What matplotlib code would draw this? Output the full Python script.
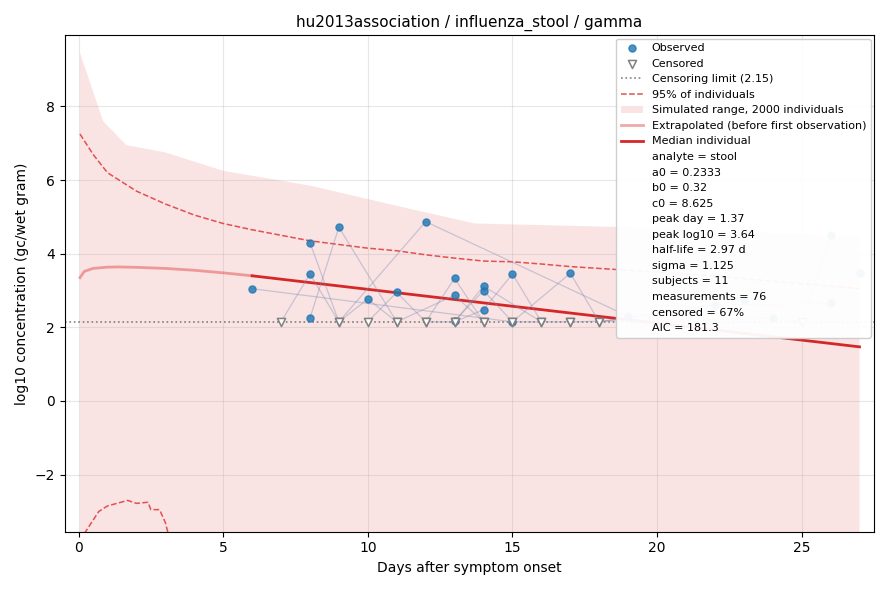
import numpy as np
import matplotlib.pyplot as plt
import matplotlib.lines as mlines

fig = plt.figure(figsize=(8.89, 5.9), dpi=100)
ax = fig.add_subplot(111)

lod = 2.15

# simulated envelope (upper edge, lower edge is off the axis)
env_t = [0.05, 0.85, 1.65, 3, 5, 8, 11, 13.7, 20, 27]
env_hi = [9.45, 7.6, 6.95, 6.75, 6.25, 5.85, 5.3, 4.82, 4.7, 4.45]
ax.fill_between(env_t, [-10]*len(env_t), env_hi, color='#f4c2c2', alpha=0.45, lw=0,
                label='Simulated range, 2000 individuals')

# 95% band
hi_t = [0.05, 0.5, 1, 1.7, 2, 3, 4, 5, 6, 7, 8, 9, 10, 11, 12, 13, 14, 15, 16, 17, 18, 20, 22, 24, 27]
hi_v = [7.25, 6.7, 6.2, 5.85, 5.7, 5.35, 5.05, 4.82, 4.65, 4.5, 4.35, 4.25, 4.15, 4.08, 3.97,
        3.88, 3.8, 3.78, 3.72, 3.65, 3.6, 3.5, 3.4, 3.25, 3.05]
lo_t = [0.2, 0.7, 1, 1.7, 2, 2.4, 2.5, 2.8, 3, 3.1]
lo_v = [-3.6, -3.0, -2.85, -2.7, -2.78, -2.75, -2.95, -2.95, -3.3, -3.6]
ax.plot(hi_t, hi_v, '--', color='#e04040', lw=1.1, alpha=0.9, label='95% of individuals')
ax.plot(lo_t, lo_v, '--', color='#e04040', lw=1.1, alpha=0.9)

# median curve
ext_t = [0.05, 0.2, 0.5, 1.0, 1.37, 2, 3, 4, 5, 6]
ext_v = [3.35, 3.52, 3.6, 3.635, 3.64, 3.63, 3.6, 3.55, 3.48, 3.4]
ax.plot(ext_t, ext_v, color='#e04040', lw=2, alpha=0.45, label='Extrapolated (before first observation)')
ax.plot([6, 27], [3.4, 1.47], color='#d62728', lw=2, label='Median individual')

# subjects: (day, value, censored)
subjects = [
    [(6, 3.05, 0), (15, 2.15, 1)],
    [(8, 4.3, 0), (9, lod, 1), (10, 2.77, 0), (11, lod, 1)],
    [(7, lod, 1), (8, 3.45, 0), (9, lod, 1), (12, 4.87, 0), (19, 2.3, 0)],
    [(8, 2.25, 0), (9, 4.72, 0), (11, lod, 1), (13, 2.87, 0), (14, lod, 1)],
    [(10, lod, 1), (11, 2.95, 0), (12, lod, 1), (13, 3.33, 0), (14, lod, 1)],
    [(12, lod, 1), (13, lod, 1), (14, 3.12, 0), (16, lod, 1)],
    [(13, 2.17, 0), (14, 3.0, 0), (15, lod, 1), (17, lod, 1)],
    [(13, lod, 1), (14, 2.48, 0), (15, 3.45, 0), (16, lod, 1)],
    [(15, 2.15, 0), (17, 3.47, 0), (18, lod, 1), (23, 2.75, 0)],
    [(17, lod, 1), (24, 2.25, 0), (25, lod, 1), (26, 4.52, 0), (27, 3.47, 0)],
    [(18, lod, 1), (22, 2.6, 0), (26, 2.65, 0)],
]
obs_x, obs_y, cen_x, cen_y = [], [], [], []
for s in subjects:
    ax.plot([p[0] for p in s], [p[1] for p in s], color='#7f8fb5', lw=0.9, alpha=0.4, zorder=2)
    for d, v, c in s:
        if c:
            cen_x.append(d); cen_y.append(v)
        else:
            obs_x.append(d); obs_y.append(v)
ax.scatter(obs_x, obs_y, s=26, color='#1f77b4', alpha=0.8, zorder=4, label='Observed')
ax.scatter(cen_x, cen_y, s=34, marker='v', facecolors='white', edgecolors='#808080',
           lw=1.1, zorder=4, label='Censored')
ax.axhline(lod, color='#808080', ls=':', lw=1.2, label='Censoring limit (2.15)')

ax.set_xlim(-0.48, 27.5)
ax.set_ylim(-3.55, 9.93)
ax.grid(alpha=0.3)
ax.set_xlabel('Days after symptom onset')
ax.set_ylabel('log10 concentration (gc/wet gram)')
ax.set_title('hu2013association / influenza_stool / gamma', fontsize=11)

h, l = ax.get_legend_handles_labels()
order = ['Observed', 'Censored', 'Censoring limit (2.15)', '95% of individuals',
         'Simulated range, 2000 individuals', 'Extrapolated (before first observation)', 'Median individual']
hd = dict(zip(l, h))
handles = [hd[k] for k in order]
extra = ['analyte = stool', 'a0 = 0.2333', 'b0 = 0.32', 'c0 = 8.625', 'peak day = 1.37',
         'peak log10 = 3.64', 'half-life = 2.97 d', 'sigma = 1.125', 'subjects = 11',
         'measurements = 76', 'censored = 67%', 'AIC = 181.3']
for e in extra:
    handles.append(mlines.Line2D([], [], color='none'))
leg = ax.legend(handles, order + extra, loc='upper right', fontsize=8, framealpha=0.95,
                handlelength=2, borderaxespad=0.3, labelspacing=0.5)
leg.set_zorder(10)

fig.tight_layout()
fig.savefig('out.png', dpi=100)
